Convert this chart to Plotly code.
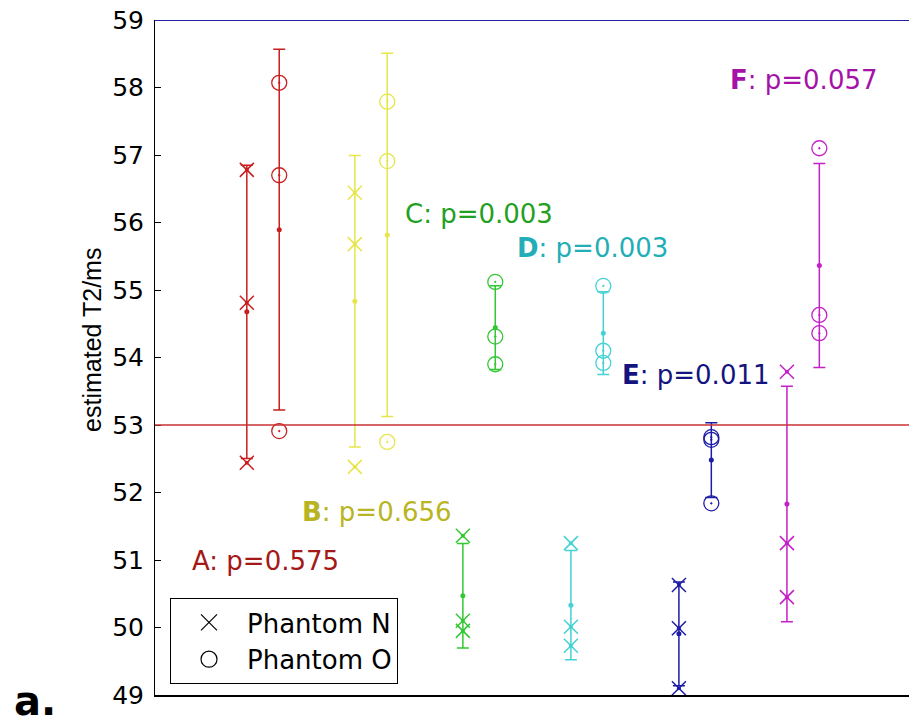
import numpy as np
import plotly.graph_objects as go

# ---------------- data ----------------
groups = ["A", "B", "C", "D", "E", "F"]
phantom_n = {
    "A": [56.78, 54.81, 52.44],
    "B": [56.44, 55.68, 52.38],
    "C": [51.36, 50.10, 49.95],
    "D": [51.25, 50.01, 49.73],
    "E": [50.63, 49.99, 49.10],
    "F": [53.79, 51.25, 50.45],
}
phantom_o = {
    "A": [58.07, 56.70, 52.91],
    "B": [57.79, 56.91, 52.75],
    "C": [55.12, 54.31, 53.90],
    "D": [55.06, 54.10, 53.92],
    "E": [52.78, 52.82, 51.84],
    "F": [57.10, 54.63, 54.36],
}
p_labels = ["p=0.575", "p=0.656", "p=0.003", "p=0.003", "p=0.011", "p=0.057"]
reference_t2 = 53
y_ticks = list(range(49, 60))

# ---------------- style ----------------
mark_colors = {"A": "#c81e1e", "B": "#e6e64a", "C": "#33c833", "D": "#44d2d4",
               "E": "#1c1ca6", "F": "#c420c8"}
text_colors = {"A": "#a41818", "B": "#b8b422", "C": "#22a022", "D": "#22aeb6",
               "E": "#14147e", "F": "#a412a8"}
bold_letter = {"A": False, "B": True, "C": False, "D": True, "E": True, "F": True}
# label anchor positions (x in data units, y in data units)
label_pos = {"A": (0.324, 50.99), "B": (1.343, 51.71), "C": (2.296, 56.13),
             "D": (3.333, 55.62), "E": (4.306, 53.74), "F": (5.306, 58.11)}
offset = 0.15
FONT = "DejaVu Sans"

fig = go.Figure()

for i, g in enumerate(groups, start=1):
    col = mark_colors[g]
    for vals, dx, sym, size, lw in [
        (phantom_n[g], -offset, "x-thin-open", 14, 1.5),
        (phantom_o[g], +offset, "circle-open-dot", 15, 1.3),
    ]:
        arr = np.array(vals, dtype=float)
        xpos = i + dx
        # mean +/- SD
        fig.add_trace(go.Scatter(
            x=[xpos], y=[arr.mean()], mode="markers",
            marker=dict(color=col, size=5),
            error_y=dict(type="data", array=[arr.std(ddof=1)], color=col,
                         thickness=1.5, width=6),
            showlegend=False, hoverinfo="skip"))
        fig.add_trace(go.Scatter(
            x=[xpos] * len(arr), y=arr, mode="markers",
            marker=dict(symbol=sym, size=size, color=col,
                        line=dict(color=col, width=lw)),
            showlegend=False))
        if sym.startswith("x"):
            fig.add_trace(go.Scatter(
                x=[xpos] * len(arr), y=arr, mode="markers",
                marker=dict(size=4, color=col), showlegend=False,
                hoverinfo="skip"))

# legend entries
fig.add_trace(go.Scatter(x=[None], y=[None], mode="markers", name="Phantom N",
                         marker=dict(symbol="x-thin-open", size=18, color="black",
                                     line=dict(color="black", width=1.2))))
fig.add_trace(go.Scatter(x=[None], y=[None], mode="markers", name="Phantom O",
                         marker=dict(symbol="circle-open", size=20, color="black",
                                     line=dict(color="black", width=1.2))))

annotations = []
for g, p in zip(groups, p_labels):
    letter = f"<b>{g}</b>" if bold_letter[g] else g
    x, y = label_pos[g]
    annotations.append(dict(x=x, y=y, xref="x", yref="y", text=f"{letter}: {p}",
                            showarrow=False, xanchor="left", yanchor="middle",
                            font=dict(family=FONT, size=26, color=text_colors[g])))
annotations.append(dict(x=-0.0836, y=0.526, xref="paper", yref="paper",
                        text="estimated T2/ms", textangle=-90, showarrow=False,
                        xanchor="center", yanchor="middle",
                        font=dict(family="Liberation Sans", size=25, color="black")))
annotations.append(dict(x=-0.19, y=-0.046, xref="paper", yref="paper",
                        text="<b>a.</b>", showarrow=False,
                        xanchor="left", yanchor="bottom",
                        font=dict(family=FONT, size=40, color="black")))

fig.update_layout(
    width=909, height=727,
    margin=dict(l=155, r=0, t=20, b=32),
    paper_bgcolor="white", plot_bgcolor="white",
    showlegend=True,
    legend=dict(x=0.0199, y=0.1437, xanchor="left", yanchor="top",
                bordercolor="black", borderwidth=1, bgcolor="white",
                font=dict(family=FONT, size=26, color="black"),
                itemwidth=66, tracegroupgap=0),
    annotations=annotations,
    shapes=[
        dict(type="line", xref="paper", x0=0, x1=1, yref="y",
             y0=reference_t2, y1=reference_t2, line=dict(color="#c83232", width=1.3)),
        dict(type="line", xref="paper", x0=0, x1=1, yref="y",
             y0=y_ticks[-1], y1=y_ticks[-1], line=dict(color="#2424a8", width=2)),
    ],
)
fig.update_xaxes(range=[0, 6.98], showline=True, linecolor="black", linewidth=1.5,
                 showticklabels=False, ticks="", showgrid=False, zeroline=False)
fig.update_yaxes(range=[49, 59], tickvals=y_ticks, ticks="inside", ticklen=6,
                 tickcolor="black", showline=True, linecolor="black", linewidth=1,
                 showgrid=False, zeroline=False, ticklabelstandoff=5,
                 tickfont=dict(family=FONT, size=25, color="black"))

# remove the default 8px page margin so the figure fills the window exactly
fig.write_html("out.html", config={"displayModeBar": False},
               post_script="document.body.style.margin='0';")
